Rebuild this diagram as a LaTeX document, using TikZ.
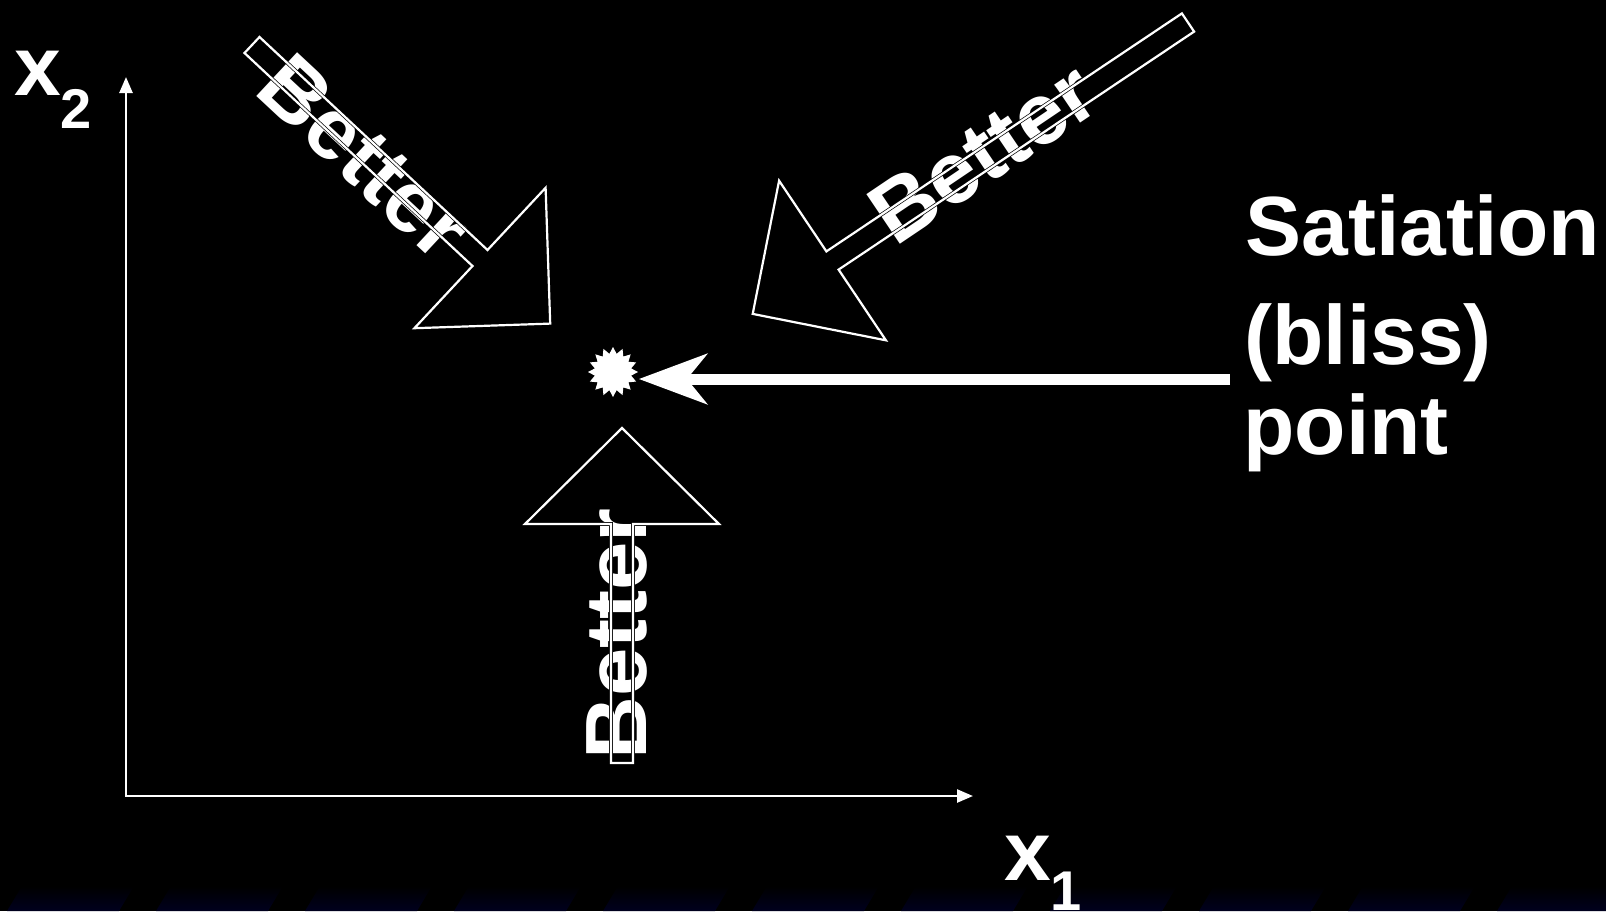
\documentclass[tikz,border=0pt]{standalone}
\usepackage{fontspec}
\setmainfont{Liberation Sans}
\usetikzlibrary{arrows.meta,shapes.geometric}
\definecolor{navy}{RGB}{0,0,30}
\begin{document}
\begin{tikzpicture}[x=0.5pt,y=0.5pt,
  big/.style={text=white,font=\bfseries\fontsize{42}{48}\selectfont,inner sep=0pt,anchor=base west},
  lab/.style={text=white,font=\bfseries\fontsize{42}{48}\selectfont,inner sep=0pt,anchor=base west},
  sub/.style={text=white,font=\bfseries\fontsize{28}{33}\selectfont,inner sep=0pt,anchor=base west},
  bettertext/.style={text=white,font=\bfseries\fontsize{43.5}{50}\selectfont,inner sep=0pt},
  blockarrow/.style={draw=black,double=white,double distance=1.1pt,line width=0.35pt,line join=miter},
  axis/.style={draw=white,line width=1.25pt,{Triangle[length=8pt 0,width=6.5pt 0]}-{Triangle[length=8pt 0,width=6.5pt 0]}},
  pointer/.style={draw=white,line width=5.5pt,-{Stealth[length=34pt 0,width=25pt 0,inset=10pt 0]}},
  stripe/.style={top color=black,bottom color=navy}
]
\fill[black] (0,0) rectangle (1606,-911);
\useasboundingbox (0,0) rectangle (1606,-911);
% bottom stripes
\foreach \k in {0,...,10} {
  \pgfmathsetmacro\xa{7+149*\k}
  \shade[stripe] (\xa,-911) -- (\xa+15,-886) -- (\xa+127,-886) -- (\xa+112,-911) -- cycle;
}
% axes
\coordinate (O) at (126,-796);
\coordinate (xe) at (973,-796);
\coordinate (ye) at (126,-77);
\draw[axis] (ye) -- (O) -- (xe);
% Better texts
\node[bettertext, rotate=-43] (b1) at (365,-157) {Better};
\node[bettertext, rotate=34] (b2) at (983,-153) {Better};
\node[bettertext, rotate=90] (b3) at (617,-634) {Better};
% block arrows
\draw[blockarrow] (244.5,-53) -- (259.5,-37) -- (487.5,-250) -- (545.6,-187.8) -- (550.2,-323.6) -- (414.4,-328.2) -- (472.5,-266) -- cycle;
\draw[blockarrow] (1181.9,-13.4) -- (1194.1,-31.6) -- (838.6,-269.6) -- (885.9,-340.3) -- (752.7,-313.9) -- (779.1,-180.7) -- (826.4,-251.4) -- cycle;
\draw[blockarrow] (611,-763) -- (611,-524) -- (525,-524) -- (622,-428) -- (719,-524) -- (633,-524) -- (633,-763) -- cycle;
% bliss point
\node[star, star points=16, star point ratio=1.35, fill=white, inner sep=0pt, minimum size=25pt] (bliss) at (613,-372) {};
\coordinate (ptail) at (1230,-379);
\draw[pointer] (ptail) -- (ptail -| bliss.east);
% labels
\node[big] (sat) at (1245,-255) {Satiation};
\node[big] (bl) at (1244,-364) {(bliss)};
\node[big] (pt) at (1243,-454) {point};
\node[lab] (x2) at (14,-95) {x};
\node[sub] (x2s) at (60,-128) {2};
\node[lab] (x1) at (1004,-880) {x};
\node[sub] (x1s) at (1050,-910) {1};
\end{tikzpicture}
\end{document}
